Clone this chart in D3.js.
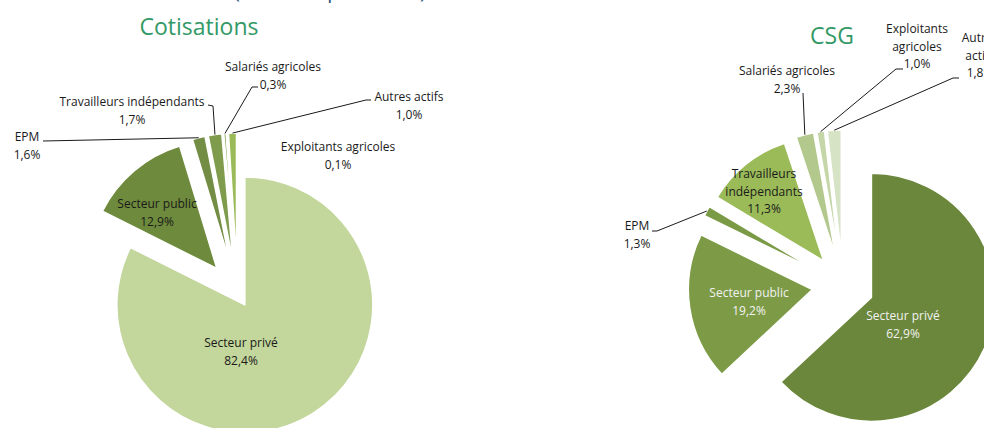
<!DOCTYPE html>
<html>
<head>
<meta charset="utf-8">
<script src="https://cdn.jsdelivr.net/npm/d3@7"></script>
<style>
  html, body { margin: 0; padding: 0; background: #ffffff; }
  svg { display: block; }
</style>
</head>
<body>
<svg id="chart" width="984" height="428"></svg>
<script>
// ---------- DATA ----------
const categories = ["Secteur privé", "Secteur public", "EPM", "Travailleurs indépendants",
                    "Salariés agricoles", "Exploitants agricoles", "Autres actifs"];
const cotisationsValues = [82.4, 12.9, 1.6, 1.7, 0.3, 0.1, 1.0];
const csgValues         = [62.9, 19.2, 1.3, 11.3, 2.3, 1.0, 1.8];
const cotisationsLabels = ["82,4%", "12,9%", "1,6%", "1,7%", "0,3%", "0,1%", "1,0%"];
const csgLabels         = ["62,9%", "19,2%", "1,3%", "11,3%", "2,3%", "1,0%", "1,8%"];
const chartTitles = ["Cotisations", "CSG"];
const mainTitle = "(hors compensation)";

// ---------- STYLE / LAYOUT ----------
const cotisColors = ["#c3d69b", "#6e8a3c", "#738d44", "#7e9c4c", "#8aa956", "#93b35a", "#9bbb59"];
const csgColors   = ["#6b873b", "#7d9b46", "#7b9a45", "#9bbb59", "#b2c88c", "#c5d6a8", "#d7e3c5"];

const charts = [
  {
    title: chartTitles[0], titleX: 199, titleY: 35,
    values: cotisationsValues, pct: cotisationsLabels, colors: cotisColors,
    cx: 237.5, cy: 293, r: 128,
    explode: [14, 32, 32, 32, 32, 32, 32],
    labels: [
      { lines: ["Secteur privé"], x: 241, y: 347, color: "#1a1a1a" },
      { lines: ["Secteur public"], x: 157, y: 208, color: "#1a1a1a" },
      { lines: ["EPM"], x: 27, y: 141, color: "#1a1a1a", stub: [[43, 141]] },
      { lines: ["Travailleurs indépendants"], x: 132, y: 106, color: "#1a1a1a", stub: [[208, 105], [213, 106]] },
      { lines: ["Salariés agricoles"], x: 273, y: 71, color: "#1a1a1a", stub: [[258, 87], [252, 87]] },
      { lines: ["Exploitants agricoles"], x: 338, y: 151, color: "#1a1a1a" },
      { lines: ["Autres actifs"], x: 409, y: 101, color: "#1a1a1a", stub: [[371, 100], [366, 100]] }
    ]
  },
  {
    title: chartTitles[1], titleX: 832, titleY: 44,
    values: csgValues, pct: csgLabels, colors: csgColors,
    cx: 843, cy: 285, r: 124,
    explode: [31, 31, 31, 31, 31, 31, 31],
    labels: [
      { lines: ["Secteur privé"], x: 903, y: 320, color: "#f2f2f2" },
      { lines: ["Secteur public"], x: 749, y: 297, color: "#f2f2f2" },
      { lines: ["EPM"], x: 637, y: 230, color: "#1a1a1a", stub: [[652, 231], [657, 231]] },
      { lines: ["Travailleurs", "indépendants"], x: 764, y: 178, color: "#1a1a1a" },
      { lines: ["Salariés agricoles"], x: 787, y: 75, color: "#1a1a1a", stub: [[803, 93]] },
      { lines: ["Exploitants", "agricoles"], x: 917, y: 33, color: "#1a1a1a", stub: [[903, 69], [896, 69]] },
      { lines: ["Autres", "actifs"], x: 980, y: 42, color: "#1a1a1a", stub: [[959, 78], [953, 78]] }
    ]
  }
];

const FONT = "'Open Sans', 'Noto Sans', sans-serif";
const svg = d3.select("#chart");

// cut-off main title at the very top (only descenders visible in the reference)
svg.append("text")
  .attr("x", 330).attr("y", -2.5)
  .attr("text-anchor", "middle")
  .attr("font-family", FONT).attr("font-size", 20)
  .attr("fill", "#1f4e79")
  .text(mainTitle);

charts.forEach(ch => {
  svg.append("text")
    .attr("x", ch.titleX).attr("y", ch.titleY)
    .attr("text-anchor", "middle")
    .attr("font-family", FONT).attr("font-size", 23)
    .attr("fill", "#339966")
    .text(ch.title);

  const pie = d3.pie().sort(null).value(d => d).startAngle(0).endAngle(2 * Math.PI);
  const arcs = pie(ch.values);
  const arc = d3.arc().innerRadius(0).outerRadius(ch.r);

  const g = svg.append("g").attr("transform", `translate(${ch.cx},${ch.cy})`);

  const offset = (d, i) => {
    const m = (d.startAngle + d.endAngle) / 2;
    return [ch.explode[i] * Math.sin(m), -ch.explode[i] * Math.cos(m)];
  };

  g.selectAll("path.slice").data(arcs).enter().append("path")
    .attr("class", "slice")
    .attr("d", arc)
    .attr("transform", (d, i) => { const o = offset(d, i); return `translate(${o[0]},${o[1]})`; })
    .attr("fill", (d, i) => ch.colors[i])
    .attr("stroke", "#ffffff")
    .attr("stroke-width", 1.5)
    .attr("stroke-linejoin", "round");

  // leader lines
  arcs.forEach((d, i) => {
    const lb = ch.labels[i];
    if (!lb.stub) return;
    const m = (d.startAngle + d.endAngle) / 2;
    const o = offset(d, i);
    const ax = ch.cx + o[0] + ch.r * Math.sin(m);
    const ay = ch.cy + o[1] - ch.r * Math.cos(m);
    const pts = lb.stub.concat([[ax, ay]]);
    svg.append("path")
      .attr("d", d3.line()(pts))
      .attr("fill", "none")
      .attr("stroke", "#1a1a1a")
      .attr("stroke-width", 1);
  });

  // labels
  arcs.forEach((d, i) => {
    const lb = ch.labels[i];
    const t = svg.append("text")
      .attr("text-anchor", "middle")
      .attr("font-family", FONT).attr("font-size", 12)
      .attr("fill", lb.color);
    const lines = lb.lines.concat([ch.pct[i]]);
    lines.forEach((ln, k) => {
      t.append("tspan").attr("x", lb.x).attr("y", lb.y + k * 17.5).text(ln);
    });
  });
});
</script>
</body>
</html>
